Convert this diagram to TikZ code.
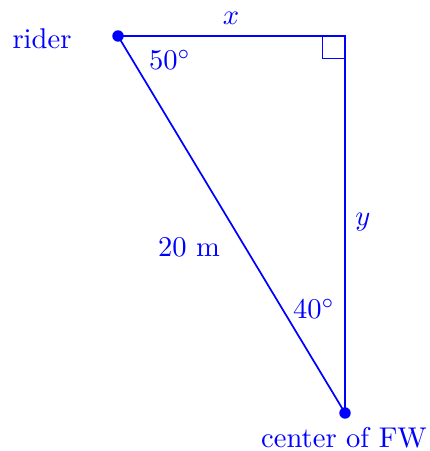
\documentclass[tikz,border=0pt]{standalone}
\begin{document}
\begin{tikzpicture}[x=0.35pt,y=-0.35pt,
  lbl/.style={text=blue,inner sep=0pt},
  side/.style={draw=blue,line width=0.6pt},
  dotnode/.style={circle,fill=blue,inner sep=0pt,minimum size=4pt}]
\useasboundingbox (0,0) rectangle (429,451);
\coordinate (R) at (118,36);
\coordinate (C) at (345,36);
\coordinate (B) at (345,413);
\draw[draw=blue,line width=0.3pt] (322,36) -- (322,58) -- (345,58);
\draw[side] (R) -- (C) -- (B) -- cycle;
\node[dotnode] (rd) at (R) {};
\node[dotnode] (bd) at (B) {};
\node[lbl] (rider) at (42,39) {rider};
\node[lbl] (x) at (231,18) {$x$};
\node[lbl] (a50) at (170,60) {$50^\circ$};
\node[lbl] (y) at (363,222) {$y$};
\node[lbl] (d) at (189,247) {20 m};
\node[lbl] (a40) at (314,309) {$40^\circ$};
\node[lbl] (fw) at (344,438) {center of FW};
\end{tikzpicture}
\end{document}
